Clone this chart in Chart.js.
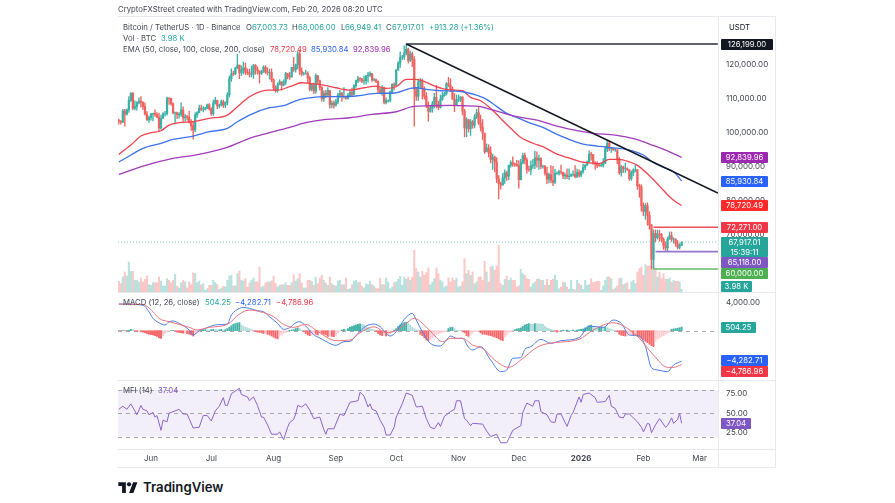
<!DOCTYPE html>
<html>
<head>
<meta charset="utf-8">
<title>BTC/USDT</title>
<script src="https://cdn.jsdelivr.net/npm/chart.js@4"></script>
<style>
  html, body { margin: 0; background: #fff; }
  body { position: relative; width: 895px; height: 503px; overflow: hidden; font-family: Inter, "Liberation Sans", sans-serif; color: #434651; }
  canvas { position: absolute; left: 118px; filter: blur(0.4px); }
  .txt { position: absolute; font-size: 7.75px; line-height: 11px; white-space: nowrap; z-index: 3; }
  .rule { position: absolute; background: #e8e9ee; z-index: 1; }
  .tag { position: absolute; left: 721px; height: 11px; line-height: 11px; font-size: 7.75px; color: #fff; text-align: center; border-radius: 1px; z-index: 4; white-space: nowrap; }
  .logo { position: absolute; left: 118px; top: 480px; }
  .brand { position: absolute; left: 143px; top: 477px; font-size: 13.2px; line-height: 20px; font-weight: 600; color: #131722; }
</style>
</head>
<body>
<div class="rule" style="left:118px;top:16px;width:657px;height:1px"></div>
<div class="rule" style="left:118px;top:292px;width:657px;height:1px"></div>
<div class="rule" style="left:118px;top:380px;width:657px;height:1px"></div>
<div class="rule" style="left:118px;top:449px;width:657px;height:1px"></div>
<div class="rule" style="left:118px;top:467px;width:657px;height:1px"></div>
<div class="rule" style="left:718px;top:16px;width:1px;height:451px"></div>
<div class="rule" style="left:775px;top:16px;width:1px;height:452px"></div>
<canvas id="mainChart" width="657" height="275" style="top:17px"></canvas>
<canvas id="macdChart" width="657" height="87" style="top:293px"></canvas>
<canvas id="mfiChart" width="657" height="86" style="top:381px"></canvas>
<svg class="logo" width="20" height="14" viewBox="0 0 36 26"><path fill="#131722" d="M14 24H7V11H0V4h14v20zM28 24h-8l7.5-20h8L28 24z"/><circle fill="#131722" cx="20" cy="8" r="4"/></svg>
<div class="brand">TradingView</div>

<script>
/* ── Daily candles, 16 May 2025 to 20 Feb 2026, in thousands of USDT ── */
const closeK = [
    103.5,103.2,106.5,105.6,106.8,109.6,111.7,107.3,107.8,108.9,109.4,109.0,107.8,105.6,103.9,104.6,
    105.6,105.8,105.4,104.7,101.5,104.3,105.6,105.7,110.3,110.2,108.6,105.9,106.0,105.4,105.5,106.8,104.5,104.8,104.6,103.2,102.1,100.9,105.3,106.0,107.3,107.0,107.0,107.3,108.3,107.1,
    105.7,108.8,109.6,108.0,108.2,109.2,108.2,108.9,111.2,116.0,117.5,117.4,119.1,120.0,117.7,118.6,119.2,117.9,117.8,117.3,117.4,119.9,118.7,118.3,117.6,117.9,119.4,118.0,117.8,117.8,115.7,
    113.3,112.5,114.2,115.1,114.1,115.0,117.5,116.6,116.5,119.3,118.7,120.1,123.3,118.3,117.4,117.4,117.5,116.2,112.9,114.2,112.4,116.9,115.4,113.4,110.1,111.7,111.2,112.5,108.4,108.8,108.2,
    109.2,111.2,111.7,110.7,110.7,110.2,111.1,112.0,111.4,113.9,115.4,116.0,115.9,115.3,115.4,116.8,117.0,117.5,115.6,115.7,115.2,112.7,112.0,113.3,109.0,109.6,109.6,112.1,114.4,114.0,
    118.6,120.6,122.3,122.4,123.5,124.7,121.4,123.3,121.7,113.0,110.8,115.1,115.2,113.0,110.8,108.2,106.4,107.2,108.6,110.5,108.4,107.5,110.0,111.0,111.6,114.5,114.1,112.9,110.0,108.3,109.6,
    110.0,110.6,106.5,101.5,103.9,101.3,103.3,102.3,104.7,106.0,103.0,101.7,100.0,94.5,95.6,94.2,92.2,92.9,91.5,86.6,85.1,84.7,86.8,88.3,87.3,90.5,91.3,90.9,90.8,90.4,
    86.3,91.3,93.4,92.1,89.3,89.2,90.4,90.6,92.7,92.0,92.5,90.2,90.2,88.2,86.4,87.8,86.1,85.5,88.1,88.2,88.6,88.5,87.4,87.6,87.2,87.3,87.8,87.8,87.2,88.4,87.6,
    88.7,89.9,90.6,91.5,93.8,93.7,91.3,91.0,90.5,90.4,90.6,91.2,95.3,97.0,95.5,95.5,95.1,95.1,92.5,88.3,90.0,89.5,89.5,89.2,86.6,88.3,89.2,89.2,84.5,84.2,78.6,
    76.9,78.7,75.8,73.0,62.8,70.5,69.2,70.3,70.1,68.8,66.9,66.2,68.8,69.8,68.8,68.8,67.5,66.4,66.9,67.9
];
const highK = [
    104.1,103.7,107.0,107.0,107.1,110.7,111.9,111.9,109.5,109.3,110.4,110.7,109.3,108.9,106.3,105.0,
    105.8,105.9,106.8,106.0,105.9,105.3,106.0,106.4,110.6,110.4,110.3,108.9,106.2,106.2,106.0,108.9,107.7,105.5,105.2,106.5,104.0,103.4,106.0,106.3,108.2,108.2,107.8,107.6,108.5,108.7,
    107.5,109.7,110.5,109.7,108.5,109.7,109.7,109.2,111.9,116.8,118.9,118.2,119.4,123.2,120.0,119.8,120.9,120.6,118.9,118.8,119.7,120.2,120.2,119.5,118.3,118.5,119.8,119.8,119.2,118.8,118.9,
    116.0,113.9,114.8,115.7,115.1,115.7,117.9,117.6,117.9,119.3,122.3,120.3,124.0,124.4,119.2,117.9,118.5,118.0,116.8,114.6,114.7,117.4,117.0,115.6,113.7,112.4,112.6,113.4,112.6,109.5,109.5,
    109.9,111.7,112.6,112.0,113.4,110.9,111.6,112.8,113.2,114.3,115.6,116.7,116.4,116.1,116.8,117.0,117.9,118.0,117.5,116.1,115.9,115.4,113.4,114.0,113.5,110.4,109.8,112.4,114.4,114.8,
    118.7,121.0,123.9,122.9,125.7,126.2,125.0,124.1,123.8,122.5,113.4,115.9,116.0,115.9,113.6,111.9,109.2,107.8,109.3,111.7,114.0,109.4,111.2,112.0,112.0,114.9,116.4,116.0,113.6,111.6,111.2,
    111.2,110.8,110.7,107.0,104.5,104.1,104.0,103.7,105.4,107.0,107.5,105.3,104.0,99.8,96.8,96.6,96.0,93.8,93.2,92.8,87.5,85.6,88.1,89.2,88.8,90.6,91.8,93.0,91.2,92.0,
    91.9,92.3,94.1,94.1,92.7,90.3,91.8,92.3,94.6,94.5,93.5,92.8,90.6,90.5,90.0,88.2,90.4,90.2,89.4,88.6,89.1,90.6,88.0,88.2,89.5,89.5,88.0,88.9,90.4,89.4,89.2,
    88.9,90.9,90.7,91.8,94.8,94.4,93.5,91.6,91.5,90.8,91.1,92.5,96.2,97.9,97.7,95.8,95.6,95.5,93.4,92.8,90.5,90.3,91.2,89.8,89.2,88.9,89.5,90.6,89.3,85.0,84.8,
    79.5,79.3,79.5,76.9,73.1,71.5,71.5,71.5,71.4,70.5,69.2,68.0,69.4,70.9,70.9,69.2,68.9,68.4,67.4,68.0
];
const lowK = [
    102.6,102.6,103.1,102.0,105.3,106.1,109.3,106.8,106.8,106.7,108.6,107.6,106.9,105.3,103.7,103.1,
    103.8,103.6,104.9,104.5,100.4,101.1,104.5,105.0,105.3,108.4,108.1,105.6,102.7,104.2,104.4,104.9,103.4,103.5,103.8,102.9,100.8,98.2,100.4,104.6,105.9,106.6,106.2,106.7,107.2,106.7,
    105.2,105.2,108.5,107.2,107.4,107.9,107.5,107.5,108.3,110.6,115.2,116.9,117.2,118.9,116.0,116.9,117.4,117.2,117.2,116.5,116.5,116.1,117.3,117.3,114.7,117.2,117.9,117.5,117.1,115.9,115.1,
    112.7,112.0,112.0,114.2,112.6,113.9,114.3,115.9,115.8,116.5,118.1,117.9,118.9,117.2,116.8,117.0,117.3,114.7,112.4,112.4,111.6,111.7,114.5,112.6,109.4,109.3,110.4,110.8,107.3,107.4,107.3,
    107.9,108.6,110.5,109.3,110.3,109.9,110.0,110.7,110.9,111.4,113.4,114.8,115.2,114.8,114.4,114.4,115.0,116.7,115.2,115.3,114.8,111.9,111.5,111.1,108.6,108.6,109.1,109.2,111.6,112.7,
    113.9,118.4,119.3,121.6,121.7,123.0,120.6,121.0,119.5,102.0,109.6,109.6,113.5,110.0,110.0,107.5,103.5,106.1,106.1,107.4,107.4,106.9,107.3,109.6,110.8,111.2,113.6,112.2,109.9,106.3,108.4,
    109.2,109.3,105.3,98.9,98.9,100.3,99.3,101.4,101.5,104.3,102.5,100.6,98.0,94.0,94.5,93.0,91.2,89.3,88.6,85.4,80.6,83.5,84.7,85.2,86.1,86.3,90.0,90.2,90.2,90.2,
    83.8,86.2,90.9,90.9,88.1,88.7,87.7,89.6,89.5,90.0,89.3,89.5,89.7,87.6,85.1,85.3,85.3,84.5,85.1,87.8,87.6,87.9,86.6,86.4,86.6,86.3,87.3,87.3,86.8,86.9,87.0,
    87.1,88.2,89.2,90.5,91.4,92.0,90.8,89.3,89.8,90.2,90.1,90.0,91.0,94.5,94.8,94.3,94.9,94.6,91.0,87.8,87.3,88.4,88.4,89.0,86.1,86.1,87.4,88.6,83.4,81.1,77.0,
    75.7,74.6,72.9,71.7,60.0,60.2,68.0,68.8,68.2,68.0,65.8,65.1,65.2,68.7,68.1,67.6,66.7,65.9,65.9,66.9
];
const volumeK = [
    16,12.5,22.5,30,24,45,31,31,17.5,17.5, 15,21,15,19,24,11,10,14,14,14,
    22.5,16.5,9,9,20,17.5,14,17.5,26.5,9, 6,14,17.5,15,6,15,11,28.5,27.5,14,
    16.5,11,12.5,2.5,5,10,10,17.5,14,11, 4,6,9,7.5,17.5,24,25,9,9,27.5,
    31.5,17.5,16.5,20,7.5,13.5,17.5,21,15,15, 37.5,7.5,9,14,15,15,16.5,24,12.5,7.5,
    10,11,11,14,10,10,14,26,16.5,20, 27.5,13.5,6,6,17.5,17.5,16,10,22.5,12.5,
    21,25,17.5,13.5,10,22.5,12.5,10,9,16.5, 17.5,11,11,21,4,5,11,16,17.5,14,
    15,8.5,6,12.5,11,16.5,11,9,5,5, 21,11,11,21,15,5,7.5,14,15,19,
    23.5,10,22.5,19,22.5,17.5,22.5,62.5,35,30, 22.5,31,25,29,36,11,15,20,36,27.5,
    17.5,15,7.5,9,21,15,21,17.5,21,7.5, 9,15,50,27.5,32.5,25,30,12.5,15,22.5,
    22.5,17.5,46,30,15,37.5,39,32.5,39,70, 12.5,10,19,24,17.5,21,17.5,17.5,7.5,9,
    34,27.5,25,20,19,7.5,12.5,15,19,20, 17.5,17.5,10,19,10,17.5,19,25,17.5,5,
    7.5,15,14,7.5,4,17.5,4,3,17.5,12.5, 10,4,17.5,10,11,20,14,15,16,16,
    2.5,9,17.5,22.5,22.5,20,4,6,9,20, 21,11,12.5,14,4,15,17.5,12.5,30,35,
    37.5,25,41,39,39,42.5,47.5,35,22.5,30, 20,27.5,19,19,21,15,17.5,16,16,15,
    3.98
];

/* ── EMAs at the day offsets beside them ── */
const ema50Days = [0,6,11,16,21,25,30,37,45,54,59,65,74,79,85,91,95,102,108,115,122,128,133,138,143,147,151,156,161,166,171,175,180,185,190,195,200,206,211,218,225,230,234,239,244,249,254,258,263,269,274,277,280];
const ema50 = [93725,96470,99120,100100,100690,102350,103040,103340,104310,105300,107750,110700,112650,112650,113630,114800,114600,114100,113330,112650,113330,113820,113140,113630,115800,115800,115400,114100,113100,112650,112450,110500,109500,107250,104300,101400,98700,97000,96000,93800,92500,91500,91250,91000,92250,92250,91500,90500,88000,84400,81260,79800,78720];
const ema100Days = [0,6,12,21,27,37,45,54,59,65,75,82,88,93,102,112,118,128,138,145,148,153,160,166,171,178,183,187,193,198,205,211,218,225,231,238,243,249,256,261,266,271,276,280];
const ema100 = [91470,93530,95500,96960,98140,99120,100390,101370,103330,105300,107450,108040,109500,110200,110700,110700,110900,111670,111860,113140,113330,112850,112450,112350,112160,111180,109900,108240,105780,104600,102840,101670,99600,97950,96760,96180,95780,95500,94700,93530,91270,89900,88620,85930];
const ema200Days = [0,12,27,38,54,65,75,85,93,103,115,126,138,146,155,165,171,180,185,193,200,208,218,228,236,247,257,264,272,280];
const ema200 = [87840,90300,92550,93530,95800,98430,100100,101670,103040,104020,104500,105490,106270,107750,108040,108140,108040,107750,106960,105590,104600,103820,102060,100690,99900,99410,98240,96760,95000,92840];

/* ── Drawn levels ── */
const trendDays = [143, 298];
const trendPrices = [126199, 82350];
const peakDays = [143, 298];
const peakPrices = [126199, 126199];
const resistancePrice = 72271;
const supportPrice = 65118;
const bottomPrice = 60000;
const lastPrice = 67917.01;

/* ── MACD ── */
const macdHist = [
    30,-40,30,-30,40,60,200,150,-50,-120,-100,-150,-200,
    -300,-400,-500,-550,-600,-700,-800,-1000,-1100,-700,-400,-200,-100,20,50,-50,
    -200,-250,-300,-350,-300,-400,-500,-600,-750,-500,-300,-100,80,
    100,150,120,100,150,200,150,100,120,200,100,150,300,500,700,900,1000,1100,1150,
    800,600,500,400,300,150,-50,-100,-200,-250,-300,-400,-350,-500,-600,-750,-900,-1050,-1150,
    -800,-600,-400,-250,-100,50,100,150,300,400,300,100,-100,
    -400,-600,-700,-650,-300,-500,-600,-250,-400,-500,-600,-800,-750,-800,-850,-700,
    -300,-100,100,200,150,300,500,600,700,800,900,950,900,800,500,400,300,200,100,
    -100,-400,-600,-700,-600,-750,-500,-350,-100,100,300,600,800,1000,1150,1200,1100,800,
    500,300,150,50,-500,-700,-1000,-1300,-1450,-1300,-1000,-700,-500,-400,-300,-200,-150,-80,
    300,450,500,300,100,30,20,-100,-300,-700,-800,-600,-300,-150,-100,-60,-300,-500,
    -500,-550,-650,-700,-800,-900,-1000,-1150,-1300,-1400,-900,-600,-300,-150,-50,
    150,250,300,400,600,800,900,1000,950,900,1000,1000,950,950,900,600,400,300,200,100,-50,
    -200,-100,30,80,60,100,80,60,100,80,100,150,200,250,400,500,700,800,600,
    400,350,500,550,450,500,400,300,200,100,50,-100,-500,-650,
    -700,-750,-700,-600,-500,-600,-550,-700,-900,-1100,-1300,-1500,-1700,-1900,-2100,-2250,
    -1500,-1200,-1000,-800,-700,-500,-350,-200,200,250,300,350,420,504
];
const macdDays = [0,12,15,17,20,23,25,27,30,35,37,40,43,45,49,54,56,60,62,65,69,72,75,79,82,85,88,90,93,97,100,103,108,112,115,119,123,127,130,135,138,142,146,148,151,155,160,163,165,168,171,174,176,180,185,190,193,196,200,202,205,210,215,220,229,234,241,246,250,254,259,262,265,268,273,276,280];
const macdLine = [3750,3600,2673,1735,1125,797,1266,1360,1032,94,-610,0,328,563,844,938,2204,3142,3283,3142,2814,2673,1970,1032,188,422,1125,1266,656,-563,-1032,-1500,-2064,-1548,-1500,-375,656,938,563,-750,-140,1595,2439,1500,-140,-1782,-2157,-1313,-750,-1079,-1079,-2345,-2720,-2251,-4128,-5769,-5534,-3893,-3799,-2626,-2251,-1219,-1782,-1407,-985,657,469,1500,1032,-610,-750,-2251,-5206,-5534,-5769,-4831,-4282.71];
const signalDays = [0,12,17,20,25,30,35,39,45,54,60,65,72,77,82,87,93,98,103,108,115,120,127,133,138,142,147,152,156,161,165,171,176,181,187,194,200,208,214,229,236,246,253,259,266,273,276,280];
const signalLine = [3750,3700,2673,1735,1266,891,469,94,469,891,2345,2908,2533,1970,891,469,891,94,-844,-1407,-1313,-281,563,-281,0,797,1735,797,-375,-1548,-1079,-1079,-2017,-2486,-4128,-5159,-4128,-2345,-1782,-1219,94,1125,328,-1079,-3424,-5159,-5159,-4786.96];

/* ── MFI ── */
const mfiDays = [0,2,4,6,8,9,11,12,14,15,17,18,19,21,22,24,25,30,32,34,35,37,40,42,44,46,48,50,52,53,54,56,60,61,64,65,67,69,71,72,74,76,79,80,82,84,85,87,88,89,91,93,95,97,100,102,103,104,107,110,112,115,119,120,122,124,125,126,128,130,132,133,135,137,138,141,143,146,148,151,153,155,157,159,160,162,165,167,168,170,172,173,175,176,181,183,185,188,190,193,196,200,201,203,206,207,209,210,213,215,217,218,220,223,225,226,229,230,231,234,237,238,242,244,245,247,249,251,252,254,256,258,260,261,263,264,265,267,269,272,273,275,276,278,279,280];
const mfiLine = [55,59,55,62,53,48,60,55,53,48,51,45,47,28,41,39,50,55,49,49,43,31,32,47,47,40,53,59,70,60,60,75,82,74,71,66,71,60,45,45,35,23,23,26,16,32,38,42,49,60,58,62,54,43,45,29,23,30,30,49,47,64,66,77,72,58,62,55,53,41,32,22,22,32,45,62,76,73,58,59,43,32,30,38,33,46,52,55,66,66,43,41,34,37,36,27,20,23,12,12,28,34,51,63,59,66,66,52,48,39,38,49,49,33,47,51,71,64,74,76,70,64,65,73,59,56,45,44,49,49,44,39,32,26,37,36,25,35,43,32,34,44,37,42,50,37.04];

/* ── Axis labels ── */
const priceTicks = [60000, 70000, 80000, 90000, 100000, 110000, 120000];
const macdTicks = [-4000, 0, 4000];
const mfiTicks = [25, 50, 75];
const mfiBands = [20, 50, 80];
const monthDays = [16, 46, 77, 108, 138, 169, 199, 230, 261, 289];
const monthLabels = ['Jun', 'Jul', 'Aug', 'Sep', 'Oct', 'Nov', 'Dec', '2026', 'Feb', 'Mar'];

const UP = '#26a69a';
const DOWN = '#ef5350';
const FONT = 'Inter, "Liberation Sans", sans-serif';
const X_RANGE = { type: 'linear', min: -0.4, max: 298.1, offset: false };

// ── Candle helpers ──────────
const opens = closeK.map((c, i) => (i === 0 ? 103.7 : closeK[i - 1]));
const isUp = closeK.map((c, i) => c >= opens[i]);
const pairs = (days, vals) => days.map((d, i) => ({ x: d, y: vals[i] }));
const level = (from, price) => [{ x: from, y: price }, { x: 298.1, y: price }];

function fmt(v) {
    return v.toLocaleString('en-US', { minimumFractionDigits: 2, maximumFractionDigits: 2 });
}

function priceAxis(min, max, values) {
    return {
        position: 'right', min, max,
        grid: { display: false, drawTicks: false }, border: { display: false },
        afterBuildTicks: s => { s.ticks = values.map(v => ({ value: v })); },
        afterFit: s => { s.width = 57; s.paddingTop = 0; s.paddingBottom = 0; },
        ticks: { color: '#434651', padding: 8, font: { family: FONT, size: 8 }, callback: v => fmt(v).replace('-', '−') }
    };
}

function lineSet(data, color, width, order, extra) {
    return Object.assign({ type: 'line', data, borderColor: color, borderWidth: width, pointRadius: 0, order, yAxisID: 'y' }, extra || {});
}

const baseOptions = {
    responsive: false, animation: false, events: [],
    layout: { padding: 0 },
    datasets: { bar: { grouped: false, borderWidth: 0 } },
    plugins: { legend: { display: false }, tooltip: { enabled: false } }
};

// ── Dashed guides and the MFI shading ──────────
const guides = {
    id: 'guides',
    beforeDatasetsDraw(chart, args, opts) {
        const { ctx, chartArea: a, scales: { y } } = chart;
        ctx.save();
        if (opts.band) {
            ctx.fillStyle = '#f2eefa';
            ctx.fillRect(a.left, y.getPixelForValue(opts.band[1]), a.width, y.getPixelForValue(opts.band[0]) - y.getPixelForValue(opts.band[1]));
        }
        ctx.strokeStyle = '#a9a6b4';
        ctx.lineWidth = 1;
        ctx.setLineDash([4, 4]);
        opts.lines.forEach(v => {
            const py = Math.round(y.getPixelForValue(v)) + 0.5;
            ctx.beginPath();
            ctx.moveTo(a.left, py);
            ctx.lineTo(a.right, py);
            ctx.stroke();
        });
        ctx.restore();
    }
};

// ── Price pane ──────────
new Chart(document.getElementById('mainChart'), {
    type: 'bar',
    data: {
        datasets: [
            lineSet(pairs(trendDays, trendPrices), '#131722', 1.5, 1),
            lineSet(pairs(peakDays, peakPrices), '#2a2e39', 1.6, 1),
            lineSet(level(266, resistancePrice), '#f0505a', 1.5, 1),
            lineSet(level(267, supportPrice), '#9575cd', 1.6, 1),
            lineSet(level(266, bottomPrice), '#66bb6a', 1.5, 1),
            lineSet(pairs(ema200Days, ema200), '#a33cbb', 1.3, 2, { cubicInterpolationMode: 'monotone' }),
            lineSet(pairs(ema100Days, ema100), '#3f73ea', 1.3, 3, { cubicInterpolationMode: 'monotone' }),
            lineSet(pairs(ema50Days, ema50), '#f0444f', 1.3, 4, { cubicInterpolationMode: 'monotone' }),
            {
                label: 'body', order: 5, barThickness: 1.6,
                data: closeK.map((c, i) => ({ x: i, y: [opens[i] * 1000, c * 1000] })),
                backgroundColor: isUp.map(u => (u ? '#3bb0a4' : '#f0625f'))
            },
            {
                label: 'wick', order: 6, barThickness: 0.7,
                data: closeK.map((c, i) => ({ x: i, y: [lowK[i] * 1000, highK[i] * 1000] })),
                backgroundColor: isUp.map(u => (u ? '#3bb0a4' : '#f0625f'))
            },
            lineSet(level(-0.4, lastPrice), '#5fbdb3', 0.8, 7, { borderDash: [1, 2] }),
            {
                label: 'volume', order: 8, barThickness: 1.4, yAxisID: 'vol',
                data: volumeK.map((v, i) => ({ x: i, y: v })),
                backgroundColor: isUp.map(u => (u ? 'rgba(38,166,154,0.32)' : 'rgba(239,83,80,0.32)'))
            }
        ]
    },
    options: Object.assign({}, baseOptions, {
        scales: {
            x: Object.assign({ display: false }, X_RANGE),
            y: priceAxis(53235, 134150, priceTicks),
            vol: { display: false, min: 0, max: 412 }
        }
    })
});

// ── MACD pane ──────────
new Chart(document.getElementById('macdChart'), {
    type: 'bar',
    data: {
        datasets: [
            lineSet(pairs(signalDays, signalLine), '#e8737c', 1, 1, { cubicInterpolationMode: 'monotone' }),
            lineSet(pairs(macdDays, macdLine), '#4a7de8', 1, 2, { cubicInterpolationMode: 'monotone' }),
            {
                order: 3, barThickness: 1.3,
                data: macdHist.map((v, i) => ({ x: i, y: v })),
                backgroundColor: macdHist.map((v, i) => {
                    const rising = i === 0 || v > macdHist[i - 1];
                    if (v >= 0) return rising ? '#45b3a8' : '#b2dfdb';
                    return rising ? '#ffcdd2' : '#f8686a';
                })
            }
        ]
    },
    options: Object.assign({}, baseOptions, {
        plugins: Object.assign({}, baseOptions.plugins, { guides: { lines: [0] } }),
        scales: {
            x: Object.assign({ display: false }, X_RANGE),
            y: priceAxis(-6944, 5310, macdTicks)
        }
    }),
    plugins: [guides]
});

// ── MFI pane with the time axis ──────────
new Chart(document.getElementById('mfiChart'), {
    type: 'line',
    data: { datasets: [lineSet(pairs(mfiDays, mfiLine), '#8a66ca', 1, 1)] },
    options: Object.assign({}, baseOptions, {
        plugins: Object.assign({}, baseOptions.plugins, { guides: { lines: mfiBands, band: [mfiBands[0], mfiBands[2]] } }),
        scales: {
            x: Object.assign({}, X_RANGE, {
                position: 'bottom',
                grid: { display: false, drawTicks: false }, border: { display: false },
                afterBuildTicks: s => { s.ticks = monthDays.map(v => ({ value: v })); },
                afterFit: s => { s.height = 18; s.paddingLeft = 0; s.paddingRight = 0; },
                ticks: {
                    color: '#434651', padding: 5, maxRotation: 0, autoSkip: false,
                    font: ctx => ({ family: FONT, size: 8, weight: ctx.tick && ctx.tick.value === 230 ? 'bold' : 'normal' }),
                    callback: v => monthLabels[monthDays.indexOf(v)]
                }
            }),
            y: priceAxis(4, 91.4, mfiTicks)
        }
    }),
    plugins: [guides]
});

// ── Header, legends and price tags as page text ──────────
const texts = [
    ['CryptoFXStreet created with TradingView.com, Feb 20, 2026 08:20 UTC', 118, 4, '#434651'],
    ['Bitcoin / TetherUS · 1D · Binance', 123, 22, '#434651'],
    ['O', 246, 22, '#434651'], ['67,003.73', 252, 22, UP],
    ['H', 292, 22, '#434651'], ['68,006.00', 298, 22, UP],
    ['L', 341, 22, '#434651'], ['66,949.41', 345, 22, UP],
    ['C', 386, 22, '#434651'], ['67,917.01', 392, 22, UP],
    ['+913.28 (+1.36%)', 429, 22, UP],
    ['Vol · BTC', 123, 33, '#434651'], ['3.98 K', 161, 33, UP],
    ['EMA (50, close, 100, close, 200, close)', 123, 44, '#434651'],
    ['78,720.49', 270, 44, '#f23645'], ['85,930.84', 311, 44, '#2962ff'], ['92,839.96', 353, 44, '#9c27b0'],
    ['USDT', 729, 22, '#131722'],
    ['MACD (12, 26, close)', 123, 297, '#434651'],
    ['504.25', 205, 297, UP], ['−4,282.71', 235, 297, '#2962ff'], ['−4,786.96', 276, 297, '#f23645'],
    ['MFI (14)', 123, 385, '#434651'], ['37.04', 158, 385, '#7e57c2']
];
texts.forEach(([t, left, top, color]) => {
    const el = document.createElement('div');
    el.className = 'txt';
    el.textContent = t;
    el.style.cssText = `left:${left}px;top:${top}px;color:${color}`;
    document.body.appendChild(el);
});

const tags = [
    ['126,199.00', 39, 52, '#131722'],
    ['92,839.96', 152, 47, '#9c27b0'],
    ['85,930.84', 176, 47, '#2962ff'],
    ['78,720.49', 200, 47, '#ff2a2a'],
    ['72,271.00', 222, 47, '#f23645'],
    ['65,118.00', 257, 47, '#7e57c2'],
    ['60,000.00', 268, 47, '#4caf50'],
    ['3.98 K', 281, 31, UP],
    ['504.25', 322, 35, UP],
    ['−4,282.71', 355, 47, '#2962ff'],
    ['−4,786.96', 366, 47, '#f23645'],
    ['37.04', 418, 30, '#7e57c2']
];
tags.forEach(([t, top, width, color]) => {
    const el = document.createElement('div');
    el.className = 'tag';
    el.textContent = t;
    el.style.cssText = `top:${top}px;width:${width}px;background:${color}`;
    document.body.appendChild(el);
});

const clock = document.createElement('div');
clock.className = 'tag';
clock.innerHTML = '67,917.01<br>15:39:11';
clock.style.cssText = `top:237px;width:47px;height:20px;line-height:10px;background:${UP}`;
document.body.appendChild(clock);
</script>
</body>
</html>
